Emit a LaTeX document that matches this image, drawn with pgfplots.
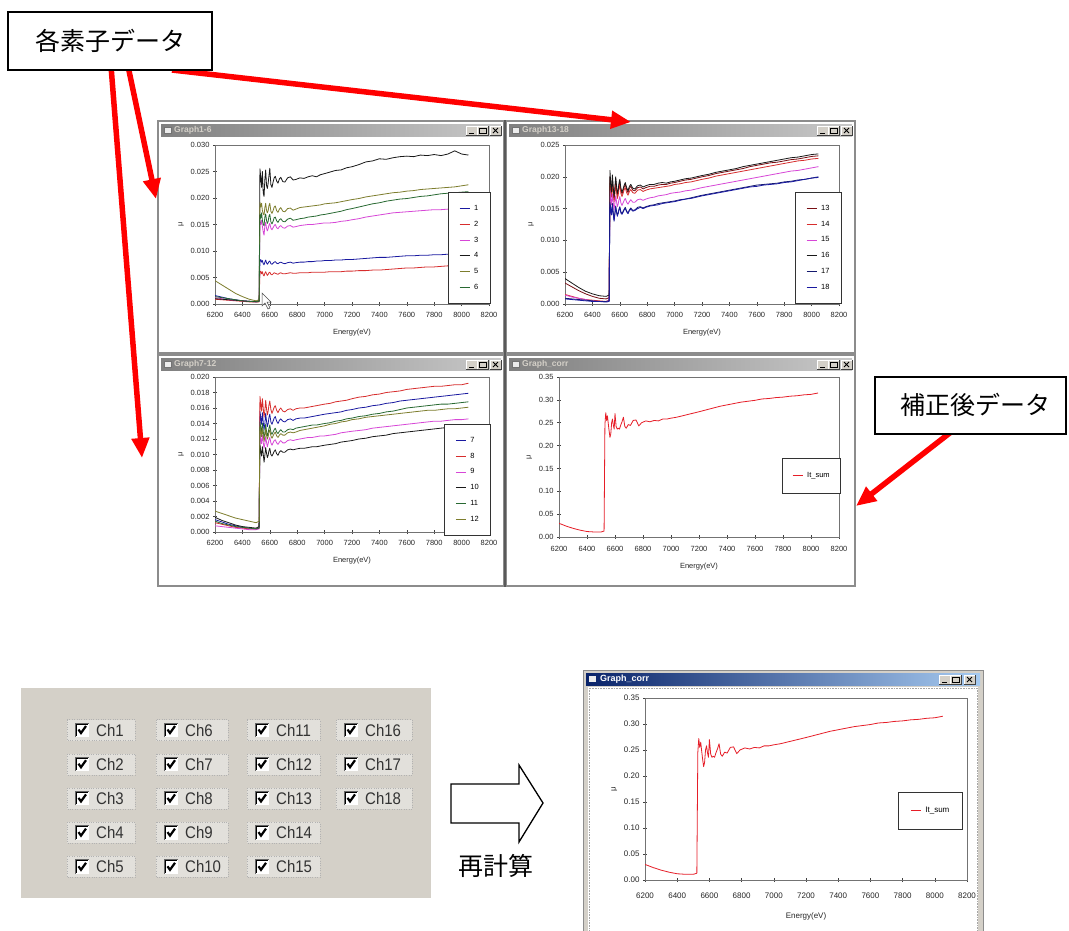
\documentclass[border=0pt]{standalone}
\usepackage{pgfplots}
\pgfplotsset{compat=1.18}
\usepackage{pgfplotstable}
\usepackage{fontspec}
\setmainfont{Liberation Sans}
\newfontfamily\jp{Noto Sans CJK JP}
\usetikzlibrary{arrows.meta}

\definecolor{winbg}{RGB}{212,208,200}
\definecolor{focusbg}{RGB}{226,224,219}
\definecolor{titleL}{RGB}{128,128,128}
\definecolor{titleR}{RGB}{200,200,200}
\definecolor{atitleL}{RGB}{10,36,106}
\definecolor{atitleR}{RGB}{166,202,240}
\definecolor{cBlue}{RGB}{25,25,160}
\definecolor{cRed}{RGB}{215,45,45}
\definecolor{cMag}{RGB}{215,70,215}
\definecolor{cBlk}{RGB}{25,25,25}
\definecolor{cOlive}{RGB}{125,125,45}
\definecolor{cGreen}{RGB}{40,105,50}
\definecolor{cDRed}{RGB}{120,15,20}
\definecolor{cNavy}{RGB}{20,25,110}
\definecolor{cSum}{RGB}{230,30,40}

% Graph1-6, values in units of 0.001
\pgfplotstableread{
x a b c d e f
6200 1.6 0.9 1.2 1.0 4.4 1.4
6250 1.3 0.8 1.0 0.9 3.6 1.2
6300 1.0 0.7 0.8 0.8 2.8 1.0
6350 0.8 0.6 0.7 0.7 2.0 0.8
6400 0.6 0.5 0.6 0.6 1.4 0.6
6450 0.5 0.4 0.5 0.5 0.9 0.5
6500 0.4 0.4 0.4 0.5 0.6 0.4
6522 0.5 0.4 0.5 0.6 0.8 0.5
6528 8.0 6.0 15.5 25.5 19.2 17.0
6534 8.4 6.2 15.0 24.0 18.3 16.2
6540 7.9 5.7 15.8 22.0 19.0 17.2
6546 8.2 6.1 14.6 25.0 17.6 15.8
6552 7.6 5.5 13.6 21.0 17.0 15.0
6558 7.4 5.3 13.0 20.3 16.8 14.8
6564 7.9 5.8 14.8 23.5 18.2 16.4
6570 8.3 6.1 15.4 25.3 19.0 17.0
6576 7.8 5.7 14.3 22.4 17.7 15.8
6582 7.5 5.4 13.8 21.8 17.2 15.2
6588 7.7 5.6 14.2 22.8 17.6 15.6
6594 8.0 5.9 14.9 24.2 18.6 16.6
6600 8.1 6.0 15.2 25.6 19.0 16.9
6608 7.6 5.6 14.3 22.5 17.5 15.5
6616 7.5 5.5 14.0 22.0 17.1 15.1
6624 7.7 5.7 14.4 23.0 17.6 15.6
6632 7.9 5.9 14.8 23.8 18.3 16.3
6640 8.0 5.8 15.0 24.1 18.5 16.4
6650 7.7 5.7 14.4 23.2 17.6 15.7
6660 7.6 5.6 14.2 22.8 17.3 15.4
6670 7.8 5.8 14.6 23.6 17.9 15.9
6680 7.9 5.9 14.8 23.9 18.2 16.1
6695 7.7 5.7 14.4 23.1 17.5 15.6
6710 7.6 5.7 14.3 23.0 17.4 15.5
6730 7.8 5.8 14.7 23.8 18.0 16.0
6750 7.9 5.9 14.8 24.0 18.1 16.2
6770 7.7 5.8 14.5 23.4 17.7 15.8
6790 7.8 5.8 14.6 23.5 17.9 15.9
6820 7.9 5.9 14.8 23.8 18.2 16.1
6850 7.9 5.9 14.9 23.7 18.3 16.2
6880 8.0 5.9 15.0 24.0 18.4 16.4
6910 8.0 6.0 15.0 24.2 18.5 16.5
6940 8.1 6.0 15.1 24.0 18.6 16.6
6970 8.1 6.0 15.2 24.4 18.7 16.8
7000 8.2 6.0 15.3 24.6 18.9 16.9
7040 8.2 6.1 15.3 24.9 19.0 17.1
7080 8.3 6.1 15.4 25.2 19.1 17.3
7120 8.3 6.1 15.6 25.3 19.3 17.5
7160 8.4 6.2 15.7 25.7 19.5 17.8
7200 8.4 6.2 15.9 25.9 19.7 18.0
7250 8.5 6.3 16.1 26.3 19.9 18.3
7300 8.6 6.3 16.4 26.8 20.2 18.6
7350 8.7 6.4 16.6 27.0 20.4 18.9
7400 8.8 6.4 16.8 27.4 20.6 19.1
7450 8.8 6.5 17.0 27.3 20.8 19.4
7500 8.9 6.6 17.2 27.6 21.0 19.6
7550 9.0 6.7 17.3 27.8 21.1 19.8
7600 9.1 6.8 17.4 27.9 21.3 19.9
7650 9.1 6.8 17.5 27.8 21.4 20.1
7700 9.2 6.9 17.6 28.1 21.6 20.3
7750 9.2 7.0 17.7 28.0 21.7 20.4
7800 9.3 7.0 17.8 28.2 21.8 20.6
7850 9.3 7.1 17.8 28.0 21.9 20.8
7900 9.4 7.2 17.9 28.3 22.0 20.9
7950 9.4 7.2 17.9 28.9 22.1 21.0
8000 9.4 7.3 17.8 28.3 22.3 21.1
8050 9.5 7.3 17.8 28.1 22.5 21.2
}\tA

% Graph13-18, units of 0.001
\pgfplotstableread{
x a b c d e f
6200 3.3 1.5 1.4 4.0 0.9 0.8
6250 2.7 1.2 1.1 3.3 0.8 0.7
6300 2.1 0.9 0.9 2.6 0.7 0.6
6350 1.6 0.7 0.7 2.0 0.6 0.5
6400 1.2 0.6 0.5 1.6 0.5 0.4
6450 0.9 0.5 0.4 1.3 0.4 0.4
6500 0.8 0.4 0.4 1.2 0.4 0.3
6522 1.0 0.6 0.5 1.4 0.5 0.4
6528 20.0 19.5 17.8 21.0 16.0 15.7
6534 18.5 18.0 16.6 19.0 15.0 14.8
6540 17.2 16.8 15.6 17.6 14.2 14.0
6546 19.8 19.2 17.3 20.3 15.8 15.5
6552 18.0 17.6 16.0 18.3 14.4 14.2
6558 16.4 16.0 14.8 16.8 13.2 13.0
6564 17.8 17.3 15.8 18.2 14.3 14.1
6570 19.6 19.0 17.0 20.0 15.4 15.2
6576 18.2 17.7 16.1 18.6 14.6 14.4
6582 17.0 16.6 15.3 17.4 14.0 13.8
6588 17.6 17.1 15.7 17.9 14.3 14.2
6594 18.6 18.1 16.4 19.0 14.9 14.8
6600 19.3 18.8 16.9 19.6 15.3 15.2
6608 17.9 17.4 15.9 18.2 14.5 14.3
6616 17.3 16.9 15.5 17.6 14.2 14.1
6624 17.8 17.4 15.9 18.1 14.6 14.4
6632 18.4 18.0 16.3 18.7 14.9 14.8
6640 18.8 18.3 16.6 19.1 15.2 15.0
6650 18.0 17.5 16.0 18.3 14.6 14.5
6660 17.5 17.1 15.7 17.8 14.3 14.2
6670 18.2 17.7 16.1 18.5 14.8 14.7
6680 18.5 18.0 16.4 18.8 15.1 14.9
6695 17.9 17.5 16.0 18.2 14.7 14.6
6710 17.8 17.4 16.0 18.1 14.8 14.7
6730 18.3 17.9 16.4 18.6 15.2 15.0
6750 18.4 18.0 16.5 18.7 15.3 15.2
6770 18.1 17.7 16.3 18.4 15.1 15.0
6790 18.3 17.9 16.5 18.6 15.3 15.2
6820 18.5 18.1 16.7 18.8 15.5 15.4
6850 18.5 18.2 16.8 18.8 15.6 15.5
6880 18.7 18.3 17.0 19.0 15.8 15.6
6910 18.8 18.4 17.1 19.1 15.9 15.8
6940 18.8 18.5 17.2 19.0 16.0 15.9
6970 19.0 18.6 17.4 19.2 16.1 16.0
7000 19.1 18.8 17.5 19.3 16.2 16.1
7040 19.3 18.9 17.6 19.5 16.4 16.3
7080 19.5 19.1 17.8 19.7 16.5 16.5
7120 19.6 19.2 17.9 19.8 16.7 16.6
7160 19.8 19.4 18.1 20.0 16.9 16.8
7200 20.0 19.6 18.3 20.2 17.1 17.0
7250 20.2 19.8 18.5 20.4 17.3 17.2
7300 20.5 20.1 18.7 20.7 17.5 17.4
7350 20.7 20.3 18.9 20.9 17.7 17.6
7400 20.9 20.5 19.1 21.1 17.9 17.8
7450 21.1 20.7 19.3 21.3 18.1 18.0
7500 21.3 20.9 19.5 21.6 18.3 18.2
7550 21.6 21.1 19.7 21.8 18.5 18.4
7600 21.8 21.3 19.9 22.0 18.7 18.5
7650 22.0 21.5 20.1 22.2 18.8 18.7
7700 22.2 21.7 20.3 22.4 18.9 18.8
7750 22.3 21.9 20.5 22.6 19.0 18.9
7800 22.5 22.1 20.7 22.8 19.2 19.1
7850 22.7 22.3 20.9 23.0 19.3 19.2
7900 22.8 22.5 21.0 23.1 19.5 19.4
7950 23.0 22.6 21.2 23.3 19.6 19.6
8000 23.2 22.8 21.4 23.5 19.8 19.8
8050 23.3 22.9 21.6 23.6 20.0 19.9
}\tB

% Graph7-12, units of 0.001
\pgfplotstableread{
x a b c d e f
6200 1.6 1.2 0.8 1.9 1.4 2.7
6250 1.3 1.0 0.7 1.5 1.1 2.4
6300 1.0 0.8 0.6 1.2 0.9 2.1
6350 0.8 0.6 0.5 0.9 0.7 1.8
6400 0.6 0.5 0.4 0.7 0.6 1.6
6450 0.5 0.4 0.3 0.6 0.5 1.4
6500 0.4 0.4 0.3 0.5 0.4 1.2
6522 0.6 0.5 0.4 0.7 0.5 1.4
6528 15.6 17.5 12.6 11.2 14.2 13.6
6534 14.8 16.6 12.0 10.5 13.5 13.0
6540 13.9 15.6 11.4 9.8 12.8 12.3
6546 15.4 17.2 12.5 11.0 14.0 13.4
6552 14.2 16.0 11.6 10.1 13.0 12.5
6558 13.2 14.8 10.8 9.0 12.2 11.7
6564 14.0 15.7 11.4 9.9 12.8 12.3
6570 15.3 17.0 12.3 10.9 13.9 13.3
6576 14.3 15.9 11.6 10.2 13.0 12.5
6582 13.6 15.1 11.0 9.6 12.4 12.0
6588 14.0 15.6 11.4 9.9 12.8 12.3
6594 14.8 16.4 11.9 10.5 13.4 12.9
6600 15.2 16.9 12.2 10.8 13.8 13.2
6608 14.2 15.8 11.5 10.0 12.9 12.4
6616 13.9 15.3 11.2 9.8 12.6 12.1
6624 14.3 15.7 11.5 10.1 12.9 12.4
6632 14.7 16.1 11.8 10.4 13.2 12.7
6640 14.9 16.3 11.9 10.6 13.4 12.9
6650 14.3 15.7 11.5 10.1 12.9 12.4
6660 14.0 15.4 11.3 9.9 12.7 12.2
6670 14.4 15.8 11.6 10.3 13.0 12.5
6680 14.6 16.0 11.8 10.5 13.2 12.7
6695 14.3 15.6 11.5 10.3 12.9 12.5
6710 14.2 15.5 11.5 10.3 12.9 12.5
6730 14.5 15.8 11.8 10.6 13.2 12.8
6750 14.6 15.9 11.9 10.7 13.3 12.9
6770 14.4 15.7 11.8 10.6 13.2 12.8
6790 14.6 15.9 11.9 10.7 13.4 12.9
6820 14.7 16.0 12.0 10.8 13.5 13.1
6850 14.7 16.0 12.1 10.8 13.6 13.2
6880 14.8 16.1 12.2 10.9 13.7 13.3
6910 14.9 16.2 12.2 11.0 13.8 13.4
6940 15.0 16.3 12.3 11.0 13.8 13.5
6970 15.1 16.4 12.4 11.1 13.9 13.6
7000 15.2 16.5 12.4 11.2 14.0 13.7
7040 15.3 16.6 12.5 11.3 14.1 13.9
7080 15.4 16.8 12.6 11.4 14.3 14.0
7120 15.5 16.9 12.8 11.6 14.4 14.2
7160 15.7 17.0 12.9 11.7 14.6 14.3
7200 15.8 17.2 13.0 11.8 14.7 14.5
7250 16.0 17.4 13.1 12.0 14.9 14.6
7300 16.1 17.5 13.2 12.1 15.0 14.8
7350 16.3 17.7 13.4 12.3 15.2 14.9
7400 16.4 17.8 13.5 12.4 15.3 15.0
7450 16.6 18.0 13.6 12.5 15.5 15.1
7500 16.7 18.1 13.7 12.7 15.6 15.2
7550 16.9 18.2 13.8 12.8 15.8 15.3
7600 17.0 18.4 13.9 12.9 16.0 15.4
7650 17.1 18.5 14.0 13.0 16.1 15.5
7700 17.2 18.6 14.1 13.1 16.2 15.6
7750 17.3 18.7 14.2 13.2 16.3 15.7
7800 17.4 18.8 14.3 13.3 16.4 15.7
7850 17.5 18.8 14.3 13.4 16.5 15.8
7900 17.6 18.9 14.4 13.5 16.5 15.9
7950 17.7 19.0 14.5 13.6 16.6 15.9
8000 17.8 19.0 14.5 13.7 16.7 16.0
8050 17.9 19.2 14.6 13.8 16.8 16.1
}\tC

% It_sum
\pgfplotstableread{
x s
6200 0.030
6250 0.024
6300 0.019
6350 0.015
6400 0.012
6450 0.011
6500 0.011
6522 0.013
6528 0.245
6534 0.272
6540 0.255
6546 0.265
6552 0.248
6558 0.232
6564 0.218
6570 0.226
6576 0.250
6582 0.258
6588 0.245
6594 0.236
6600 0.270
6608 0.242
6616 0.236
6624 0.238
6632 0.236
6640 0.244
6650 0.252
6660 0.262
6670 0.242
6680 0.238
6695 0.246
6710 0.244
6730 0.255
6750 0.256
6770 0.243
6790 0.250
6820 0.254
6850 0.252
6880 0.255
6910 0.254
6940 0.258
6970 0.258
7000 0.260
7040 0.262
7080 0.265
7120 0.268
7160 0.271
7200 0.274
7250 0.278
7300 0.282
7350 0.286
7400 0.289
7450 0.292
7500 0.295
7550 0.297
7600 0.299
7650 0.302
7700 0.303
7750 0.305
7800 0.306
7850 0.308
7900 0.309
7950 0.311
8000 0.312
8050 0.315
}\tS

\pgfplotsset{
  xls/.style={
    scale only axis, anchor=north west,
    xmin=6200, xmax=8200,
    xtick={6200,6400,...,8200},
    xticklabels={6200,6400,6600,6800,7000,7200,7400,7600,7800,8000,8200},
    tick pos=left, tick align=center, major tick length=4pt,
    axis line style={draw=black!55, line width=0.7pt},
    every tick/.style={black!75, line width=0.6pt},
    ticklabel style={font=\fontsize{7.5}{8}\selectfont, text=black!85},
    xticklabel style={yshift=-3pt},
    xlabel={Energy(eV)}, ylabel={μ},
    label style={font=\fontsize{7.5}{8}\selectfont, text=black!85},
    xlabel style={yshift=-4pt},
    legend cell align=left,
    legend image code/.code={\draw[##1, line width=1pt] (0pt,0pt) -- (10pt,0pt);},
    legend style={anchor=north west, draw=black!80, line width=0.6pt, fill=white,
      font=\fontsize{7.5}{8}\selectfont, nodes={inner sep=1pt}, column sep=3pt,
      inner xsep=11pt, inner ysep=12pt, row sep=7pt},
    every axis plot/.append style={line width=0.8pt, no marks, line join=round},
  }
}

\newcommand{\xlswin}[6]{%
  \fill[white] (#1,#2) rectangle (#3,#4);
  \draw[black!45, line width=1.2pt] (#1,#2) rectangle (#3,#4);
  \ifnum#6=1
    \shade[left color=atitleL, right color=atitleR] (#1+3,#2+3) rectangle (#3-3,#2+15);
    \node[anchor=west, font=\bfseries\fontsize{9}{10}\selectfont, text=white, inner sep=0pt] at (#1+17,#2+9.5) {#5};
  \else
    \shade[left color=titleL, right color=titleR] (#1+3,#2+3) rectangle (#3-3,#2+15);
    \node[anchor=west, font=\bfseries\fontsize{8.5}{9}\selectfont, text=winbg, inner sep=0pt] at (#1+16,#2+9.5) {#5};
  \fi
  \fill[white!85!gray] (#1+6,#2+6) rectangle (#1+13,#2+12);
  \draw[black!55, line width=0.5pt] (#1+6,#2+6) rectangle (#1+13,#2+12);
  \foreach \bo in {38,27,14}{
    \fill[winbg] (#3-\bo,#2+5) rectangle ++(11,9);
    \draw[white, line width=0.6pt] (#3-\bo,#2+14) -- ++(0,-9) -- ++(11,0);
    \draw[black!75, line width=0.6pt] (#3-\bo,#2+14) -- ++(11,0) -- ++(0,-9);
  }
  \draw[black, line width=1pt] (#3-35,#2+12) -- ++(5,0);
  \draw[black, line width=0.6pt] (#3-25,#2+7) rectangle ++(7,5.5);
  \draw[black, line width=1pt] (#3-25,#2+7.2) -- ++(7,0);
  \draw[black, line width=0.9pt] (#3-11,#2+7) -- ++(5,5) (#3-11,#2+12) -- ++(5,-5);
}

\begin{document}
\begin{tikzpicture}
\path[use as bounding box, fill=white] (0pt,0pt) rectangle (1069pt,-930pt);

\begin{scope}[x=1pt,y=-1pt]
  % composite windows
  \fill[winbg] (157,120) rectangle (856,587);
  \xlswin{158}{121}{504}{353}{Graph1-6}{0}
  \xlswin{506}{121}{855}{353}{Graph13-18}{0}
  \xlswin{158}{355}{504}{586}{Graph7-12}{0}
  \xlswin{506}{355}{855}{586}{Graph\_corr}{0}
  \draw[black!65, line width=1.5pt] (505,120) -- (505,587);
  % bottom window
  \fill[winbg] (583,670) rectangle (983,940);
  \fill[white] (588,687) rectangle (978,940);
  \draw[black!35, line width=0.6pt, densely dotted] (589,688) rectangle (977,940);
  \draw[black!45, line width=1pt] (583,670) rectangle (983,940);
  \shade[left color=atitleL, right color=atitleR] (586,673) rectangle (980,685);
  \node[anchor=west, font=\bfseries\fontsize{9}{10}\selectfont, text=white, inner sep=0pt] at (600,679) {Graph\_corr};
  \fill[white!85!gray] (589,676) rectangle (596,682);
  \foreach \bo in {41,30,16}{
    \fill[winbg] (980-\bo,675) rectangle ++(11,9);
    \draw[white, line width=0.6pt] (980-\bo,684) -- ++(0,-9) -- ++(11,0);
    \draw[black!75, line width=0.6pt] (980-\bo,684) -- ++(11,0) -- ++(0,-9);
  }
  \draw[black, line width=1pt] (942,682) -- ++(5,0);
  \draw[black, line width=0.6pt] (952,677) rectangle ++(7,5.5);
  \draw[black, line width=1pt] (952,677.2) -- ++(7,0);
  \draw[black, line width=0.9pt] (967,677) -- ++(5,5) (967,682) -- ++(5,-5);

  % checkbox panel
  \fill[winbg] (21,688) rectangle (431,898);
  \foreach \c/\bx/\fw in {0/75/68,1/164/72,2/255/73,3/344/76}{
    \foreach \r in {0,...,4}{
      \pgfmathtruncatemacro{\n}{5*\c+\r+1}
      \pgfmathsetmacro{\yc}{730+34.2*\r}
      \ifnum\n<19
        \fill[focusbg] (\bx-8,\yc-10.5) rectangle ++(\fw,21);
        \draw[black!30, line width=0.4pt, dotted] (\bx-8,\yc-10.5) rectangle ++(\fw,21);
        \fill[white] (\bx,\yc-7) rectangle ++(14,14);
        \draw[black!60, line width=0.8pt] (\bx,\yc+7) -- (\bx,\yc-7) -- (\bx+14,\yc-7);
        \draw[black, line width=0.8pt] (\bx+1,\yc+6) -- (\bx+1,\yc-6) -- (\bx+13,\yc-6);
        \draw[black, line width=2.2pt, line join=miter] (\bx+3.5,\yc-0.5) -- (\bx+6,\yc+3) -- (\bx+11,\yc-4);
        \node[anchor=west, inner sep=0pt, font=\fontsize{15}{16}\selectfont, yscale=1.12, text=black!80] at (\bx+21,\yc) {Ch\n};
      \fi
    }
  }
\end{scope}

% ---------- Graph1-6 ----------
\begin{axis}[xls, at={(215pt,-145pt)}, width=274pt, height=159pt,
  ymin=0, ymax=30, ytick={0,5,...,30},
  yticklabels={0.000,0.005,0.010,0.015,0.020,0.025,0.030},
  legend style={at={(0.850,0.704)}}]
\addplot[cBlue] table[x=x,y=a]{\tA}; \addlegendentry{1}
\addplot[cRed] table[x=x,y=b]{\tA}; \addlegendentry{2}
\addplot[cMag] table[x=x,y=c]{\tA}; \addlegendentry{3}
\addplot[cBlk] table[x=x,y=d]{\tA}; \addlegendentry{4}
\addplot[cOlive] table[x=x,y=e]{\tA}; \addlegendentry{5}
\addplot[cGreen] table[x=x,y=f]{\tA}; \addlegendentry{6}
\end{axis}

% ---------- Graph13-18 ----------
\begin{axis}[xls, at={(565pt,-145pt)}, width=274pt, height=159pt,
  ymin=0, ymax=25, ytick={0,5,...,25},
  yticklabels={0.000,0.005,0.010,0.015,0.020,0.025},
  legend style={at={(0.839,0.704)}}]
\addplot[cDRed] table[x=x,y=a]{\tB}; \addlegendentry{13}
\addplot[cRed] table[x=x,y=b]{\tB}; \addlegendentry{14}
\addplot[cMag] table[x=x,y=c]{\tB}; \addlegendentry{15}
\addplot[cBlk] table[x=x,y=d]{\tB}; \addlegendentry{16}
\addplot[cNavy] table[x=x,y=e]{\tB}; \addlegendentry{17}
\addplot[cBlue] table[x=x,y=f]{\tB}; \addlegendentry{18}
\end{axis}

% ---------- Graph7-12 ----------
\begin{axis}[xls, at={(215pt,-377pt)}, width=274pt, height=155pt,
  ymin=0, ymax=20, ytick={0,2,...,20},
  yticklabels={0.000,0.002,0.004,0.006,0.008,0.010,0.012,0.014,0.016,0.018,0.020},
  legend style={at={(0.836,0.697)}}]
\addplot[cBlue] table[x=x,y=a]{\tC}; \addlegendentry{7}
\addplot[cRed] table[x=x,y=b]{\tC}; \addlegendentry{8}
\addplot[cMag] table[x=x,y=c]{\tC}; \addlegendentry{9}
\addplot[cBlk] table[x=x,y=d]{\tC}; \addlegendentry{10}
\addplot[cGreen] table[x=x,y=e]{\tC}; \addlegendentry{11}
\addplot[cOlive] table[x=x,y=f]{\tC}; \addlegendentry{12}
\end{axis}

% ---------- Graph_corr (upper) ----------
\begin{axis}[xls, at={(559pt,-377pt)}, width=280pt, height=160pt,
  ymin=0, ymax=0.35, ytick={0,0.05,...,0.36},
  yticklabels={0.00,0.05,0.10,0.15,0.20,0.25,0.30,0.35},
  xticklabel style={yshift=-1pt},
  legend style={at={(0.796,0.494)}, inner xsep=10pt, inner ysep=13pt}]
\addplot[cSum] table[x=x,y=s]{\tS}; \addlegendentry{It\_sum}
\end{axis}

% ---------- Graph_corr (lower) ----------
\begin{axis}[xls, at={(645pt,-698pt)}, width=322pt, height=182pt,
  ymin=0, ymax=0.35, ytick={0,0.05,...,0.36},
  yticklabels={0.00,0.05,0.10,0.15,0.20,0.25,0.30,0.35},
  ticklabel style={font=\fontsize{8}{9}\selectfont},
  xticklabel style={yshift=-4pt},
  label style={font=\fontsize{8}{9}\selectfont},
  xlabel style={yshift=-4pt},
  legend style={at={(0.786,0.484)}, inner xsep=12pt, inner ysep=14pt, font=\fontsize{8}{9}\selectfont}]
\addplot[cSum] table[x=x,y=s]{\tS}; \addlegendentry{It\_sum}
\end{axis}

\begin{scope}[x=1pt,y=-1pt]
  % mouse cursor
  \filldraw[fill=white, draw=black!70, line width=0.5pt] (262,293) -- (262,306) -- (265,303) -- (268,309) -- (270,308) -- (267,302) -- (271,302) -- cycle;
  % red arrows
  \begin{scope}[red, line width=5.5pt, -{Triangle[length=20pt,width=17pt]}]
    \draw (111,66) -- (142,458);
    \draw (128,66) -- (156,199);
    \draw (172,70) -- (631,122);
    \draw (951,432) -- (856,506);
  \end{scope}
  % callout boxes
  \draw[black, line width=1.5pt, fill=white] (8,12) rectangle (212,70);
  \node[font=\jp\fontsize{25}{28}\selectfont] at (110,41) {各素子データ};
  \draw[black, line width=1.5pt, fill=white] (875,377) rectangle (1066,434);
  \node[font=\jp\fontsize{25}{28}\selectfont] at (975,405) {補正後データ};
  % hollow arrow
  \draw[black, line width=1.3pt, fill=white, line join=miter]
    (451,784) -- (519,784) -- (519,765) -- (543,803) -- (519,842) -- (519,823) -- (451,823) -- cycle;
  \node[font=\jp\fontsize{25}{28}\selectfont] at (496,866) {再計算};
\end{scope}
\end{tikzpicture}
\end{document}
